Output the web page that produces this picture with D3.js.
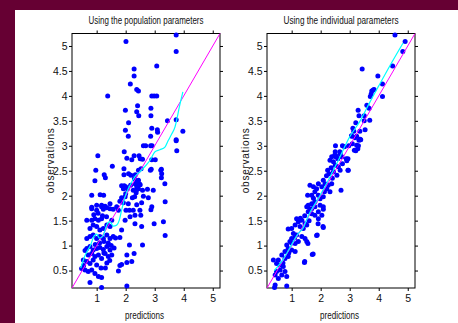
<!DOCTYPE html>
<html>
<head>
<meta charset="utf-8">
<script src="https://cdn.jsdelivr.net/npm/d3@7"></script>
<style>
  body { margin: 0; background: #660033; }
  text { font-family: "Liberation Sans", Arial, sans-serif; fill: #111; }
</style>
</head>
<body>
<div id="chart"></div>
<script>
// tick values shared by both panels
const xTicks = [1, 2, 3, 4, 5];
const yTicks = [0.5, 1, 1.5, 2, 2.5, 3, 3.5, 4, 4.5, 5];
const axisDomain = [0.15, 5.25];

// [prediction, observation] using population parameters
const popPoints = [
  [2.01,5.09],[3.74,5.22],[3.74,4.89],[3.07,4.6],[2.29,4.54],[2.29,4.4],[2.16,4.24],[2.38,4.13],[2.44,4.1],
  [1.38,4.0],[2.9,4.0],[2.98,4.0],[3.07,4.0],[1.99,3.71],[2.41,3.8],[2.38,3.68],[2.45,3.6],[2.87,3.75],
  [2.87,3.6],[2.1,3.46],[3.44,3.5],[3.74,3.52],[2.9,3.35],[1.99,3.31],[3.09,3.32],[3.97,3.29],[2.09,3.19],
  [3.1,3.27],[2.86,3.19],[3.74,3.12],[3.74,3.1],[3.76,2.9],
  [1.04,2.8],[1.95,2.88],[2.04,2.75],[2.21,2.72],[2.29,2.8],[2.46,2.8],[2.5,2.74],[2.61,3.0],[2.69,3.0],
  [2.86,3.0],[2.91,3.0],[2.58,2.73],[3.02,2.72],[2.9,2.72],
  [1.54,2.59],[0.97,2.51],[1.94,2.54],[1.94,2.42],[2.44,2.51],[2.53,2.54],[1.26,2.42],[1.3,2.36],[0.94,2.3],
  [2.1,2.44],[2.18,2.41],[2.33,2.42],[2.3,2.34],[2.44,2.31],[2.38,2.29],[2.85,2.51],[2.88,2.53],[3.21,2.51],
  [3.23,2.53],[3.23,2.36],[3.35,2.24],[3.24,2.44],[2.95,2.11],
  [1.95,2.2],[1.92,2.14],[2.0,2.18],[2.06,2.14],[1.86,2.2],[2.17,2.21],[2.32,2.24],[2.38,2.18],[2.44,2.14],
  [2.38,2.12],[2.47,2.24],[2.5,2.22],[2.26,2.11],[2.36,2.06],[2.58,2.11],[2.75,2.13],[2.0,2.04],[0.83,2.01],
  [1.12,2.02],[1.24,2.01],[1.86,1.96],[1.98,1.98],[2.23,1.96],[2.31,1.98],[2.61,1.99],[2.78,1.96],[3.36,1.88],
  [0.83,1.77],[1.0,1.81],[1.17,1.81],[1.29,1.79],[1.46,1.84],[1.8,1.89],[1.92,1.86],[2.09,1.84],[2.38,1.82],
  [2.55,1.86],[2.9,1.78],
  [0.83,1.74],[1.0,1.71],[1.17,1.78],[1.23,1.73],[1.35,1.76],[1.46,1.74],[1.57,1.73],[1.69,1.78],[1.75,1.71],
  [2.01,1.71],[2.13,1.71],[2.26,1.71],[2.49,1.71],[2.87,1.72],[0.9,1.62],[1.05,1.65],[1.2,1.6],
  [0.66,1.51],[0.83,1.51],[0.94,1.54],[1.06,1.51],[1.17,1.54],[1.34,1.58],[1.52,1.51],[1.98,1.51],[2.15,1.58],
  [2.32,1.61],[2.52,1.61],[2.32,1.44],[2.55,1.38],[2.98,1.44],[3.3,1.48],[3.36,1.2],[1.86,1.31],
  [0.77,1.34],[0.88,1.41],[1.0,1.38],[1.11,1.31],[1.23,1.34],[1.35,1.41],[1.46,1.38],[1.65,1.15],
  [0.66,1.14],[0.77,1.18],[0.88,1.21],[1.0,1.14],[1.11,1.18],[1.23,1.14],[1.35,1.21],[1.46,1.14],[1.57,1.18],
  [1.8,1.16],[2.13,1.01],[2.58,1.01],[0.95,1.02],[1.1,1.05],[1.25,1.08],[1.4,1.05],[1.5,1.0],[1.6,0.95],
  [0.66,0.94],[0.77,0.98],[0.88,0.91],[1.0,0.94],[1.11,0.96],[1.23,0.92],[1.35,0.98],[1.46,0.91],[0.6,0.9],
  [0.71,0.81],[0.83,0.84],[0.94,0.78],[1.06,0.81],[1.17,0.74],[1.29,0.84],[1.4,0.78],[1.52,0.81],[1.25,0.85],
  [2.04,0.81],[2.29,0.84],[2.04,0.66],[2.21,0.68],[1.8,0.6],[1.86,0.62],[1.75,0.49],[1.45,0.7],
  [0.54,0.71],[0.66,0.68],[0.77,0.64],[0.88,0.71],[1.0,0.61],[1.15,0.55],[1.3,0.55],[1.35,0.65],[0.55,0.6],
  [0.48,0.54],[0.6,0.51],[0.71,0.48],[0.83,0.51],[0.94,0.44],[1.06,0.38],[1.17,0.36],[0.77,0.26],[1.17,0.16],
  [2.04,0.19]
];

// [prediction, observation] using individual parameters
const indPoints = [
  [4.56,5.22],[4.91,5.09],[4.83,4.89],[4.48,4.6],[3.43,4.54],[4.13,4.24],[3.97,4.4],[3.84,4.13],[3.76,4.1],
  [3.71,3.99],[3.74,4.04],[3.81,4.12],[4.13,3.99],[3.59,3.81],[3.67,3.75],[3.29,3.71],[3.5,3.6],[3.32,3.6],
  [3.69,3.51],[3.5,3.5],[3.21,3.46],[3.11,3.35],[3.53,3.32],[3.14,3.29],[3.06,3.2],[3.24,3.19],[3.35,3.29],
  [3.38,3.12],[3.32,3.11],[3.3,3.0],[2.97,3.0],[2.75,3.0],[2.51,3.0],[3.21,2.9],[2.48,2.81],[2.54,2.79],
  [2.66,2.88],[2.88,2.74],[2.94,2.74],
  [3.36,3.13],[3.07,3.19],[3.18,3.16],[3.24,3.01],[3.28,2.94],[3.16,2.91],[3.09,3.04],[2.82,2.98],
  [2.5,2.88],[2.67,2.84],[2.52,2.78],[2.59,2.74],[2.38,2.78],[2.32,2.71],[2.44,2.68],[2.73,2.78],[2.9,2.7],
  [2.5,2.61],[2.61,2.58],[2.75,2.64],[2.36,2.56],[2.24,2.51],[2.29,2.44],[2.44,2.48],[2.56,2.41],[2.67,2.51],
  [2.95,2.51],[2.7,2.11],[2.4,2.35],[2.2,2.4],
  [2.09,2.31],[2.15,2.24],[2.26,2.21],[2.38,2.24],[2.21,2.14],[2.32,2.08],[2.04,2.18],[1.92,2.24],[1.86,2.14],
  [2.13,2.08],[1.63,2.21],[1.75,2.18],[1.55,2.01],[1.69,2.01],[1.8,2.08],[1.92,2.01],[1.98,1.94],[2.09,1.98],
  [1.8,1.88],[1.69,1.84],[1.57,1.81],[1.52,1.78],[1.63,1.73],[1.8,1.78],[1.98,1.81],[2.09,1.78],[1.75,1.95],
  [1.69,1.74],[2.09,1.73],[1.92,1.68],[1.8,1.61],[1.69,1.64],[1.57,1.68],[2.04,1.61],[1.92,1.54],[2.09,1.36],
  [1.86,1.2],[1.71,0.82],[1.44,0.66],[1.6,1.5],[1.45,1.6],[1.3,1.55],
  [1.17,1.54],[1.23,1.48],[1.35,1.51],[1.46,1.44],[1.29,1.38],[1.4,1.34],[1.52,1.41],[1.12,1.41],[1.0,1.34],
  [0.88,1.33],[1.06,1.24],[1.17,1.21],[1.35,1.18],[1.46,1.14],[1.52,1.08],[1.23,1.08],[1.12,1.04],[1.0,1.14],
  [0.94,1.08],[0.83,1.01],[0.88,0.94],[1.0,0.91],[1.12,0.88],[0.77,0.88],[0.66,0.81],[0.77,0.74],[0.88,0.78],
  [0.54,0.71],[0.6,0.61],[0.71,0.58],[0.6,0.51],[0.48,0.48],[0.43,0.41],[0.66,0.41],[0.77,0.48],[0.83,0.38],
  [0.54,0.34],[0.37,0.71],[0.43,0.21],[0.83,0.19],[0.48,0.64],[0.41,0.16],[1.45,0.68],[1.74,0.83],
  [1.56,1.04],[1.88,1.21],[2.08,1.38],[1.91,1.44],[2.94,2.51],[1.0,1.05],[1.1,1.15],[0.9,0.85],[0.7,0.65]
];

// smoothed trend of observations vs predictions (cyan)
const popTrendX = [0.45,0.6,0.79,0.92,1.0,1.09,1.2,1.29,1.37,1.46,1.57,1.69,1.78,1.86,1.98,2.15,2.32,2.49,2.67,2.84,3.01,3.18,3.36,3.47,3.59,3.7,3.78,3.85,3.93,3.97];
const popTrendY = [0.55,0.8,1.01,1.2,1.23,1.15,1.18,1.31,1.44,1.48,1.39,1.41,1.51,1.71,1.98,2.21,2.38,2.48,2.59,2.71,2.88,2.92,2.98,3.11,3.24,3.38,3.58,3.78,3.98,4.08];
const indTrendX = [0.4,0.7,1.0,1.2,1.4,1.6,1.8,2.0,2.3,2.6,3.0,3.36,3.7,4.0,4.4,4.84];
const indTrendY = [0.5,0.72,1.02,1.22,1.36,1.63,1.83,2.03,2.35,2.7,3.18,3.5,3.88,4.2,4.62,5.06];

const titles = ['Using the population parameters', 'Using the individual parameters'];
const xLabel = 'predictions';
const yLabel = 'observations';

const width = 458, height = 323;

const svg = d3
  .select('#chart')
  .append('svg')
  .attr('width', width)
  .attr('height', height);

svg.append('rect')
  .attr('x', 15).attr('y', 10)
  .attr('width', width - 15).attr('height', height - 10)
  .attr('fill', '#ffffff');

function drawPanel(left, right, title, points, trendX, trendY) {
  const top = 33.5, bottom = 288;
  const x = d3.scaleLinear().domain(axisDomain).range([left, right]);
  const y = d3.scaleLinear().domain(axisDomain).range([bottom, top]);
  const g = svg.append('g');

  const styleAxis = (sel) => {
    sel.select('.domain').remove();
    sel.selectAll('line').attr('stroke', '#000');
    sel.selectAll('text').style('font-size', '10.5px').attr('fill', '#111');
  };

  g.append('g').attr('transform', `translate(0,${bottom})`)
    .call(d3.axisBottom(x).tickValues(xTicks).tickSize(3).tickPadding(4).tickFormat((d) => d))
    .call(styleAxis);
  g.append('g').attr('transform', `translate(0,${top})`)
    .call(d3.axisTop(x).tickValues(xTicks).tickSize(3).tickFormat(''))
    .call(styleAxis);
  g.append('g').attr('transform', `translate(${left},0)`)
    .call(d3.axisLeft(y).tickValues(yTicks).tickSize(3).tickPadding(1.5).tickFormat((d) => d))
    .call(styleAxis);
  g.append('g').attr('transform', `translate(${right},0)`)
    .call(d3.axisRight(y).tickValues(yTicks).tickSize(3).tickFormat(''))
    .call(styleAxis);

  g.append('rect')
    .attr('x', left).attr('y', top)
    .attr('width', right - left).attr('height', bottom - top)
    .attr('fill', 'none').attr('stroke', '#000').attr('stroke-width', 1);

  g.append('g')
    .selectAll('circle')
    .data(points)
    .join('circle')
    .attr('cx', (d) => x(d[0]))
    .attr('cy', (d) => y(d[1]))
    .attr('r', 2.5)
    .attr('fill', '#0000ff');

  g.append('line')
    .attr('x1', x(axisDomain[0])).attr('y1', y(axisDomain[0]))
    .attr('x2', x(axisDomain[1])).attr('y2', y(axisDomain[1]))
    .attr('stroke', '#ff00ff').attr('stroke-width', 1);

  const line = d3.line()
    .x((d, i) => x(trendX[i]))
    .y((d, i) => y(trendY[i]))
    .curve(d3.curveMonotoneX);
  g.append('path')
    .datum(trendX)
    .attr('d', line)
    .attr('fill', 'none')
    .attr('stroke', '#00ffff')
    .attr('stroke-width', 1.2);

  const cx = (left + right) / 2;
  g.append('text')
    .attr('x', cx).attr('y', 24)
    .attr('text-anchor', 'middle')
    .attr('textLength', 115).attr('lengthAdjust', 'spacingAndGlyphs')
    .style('font-size', '11px')
    .text(title);

  g.append('text')
    .attr('x', cx - 1.5).attr('y', 319)
    .attr('text-anchor', 'middle')
    .attr('textLength', 39).attr('lengthAdjust', 'spacingAndGlyphs')
    .style('font-size', '11px')
    .text(xLabel);

  g.append('text')
    .attr('transform', `translate(${left - 18.5},${(top + bottom) / 2}) rotate(-90)`)
    .attr('text-anchor', 'middle')
    .attr('textLength', 65).attr('lengthAdjust', 'spacing')
    .style('font-size', '10px')
    .text(yLabel);
}

drawPanel(72, 220, titles[0], popPoints, popTrendX, popTrendY);
drawPanel(267, 415, titles[1], indPoints, indTrendX, indTrendY);
</script>
</body>
</html>
